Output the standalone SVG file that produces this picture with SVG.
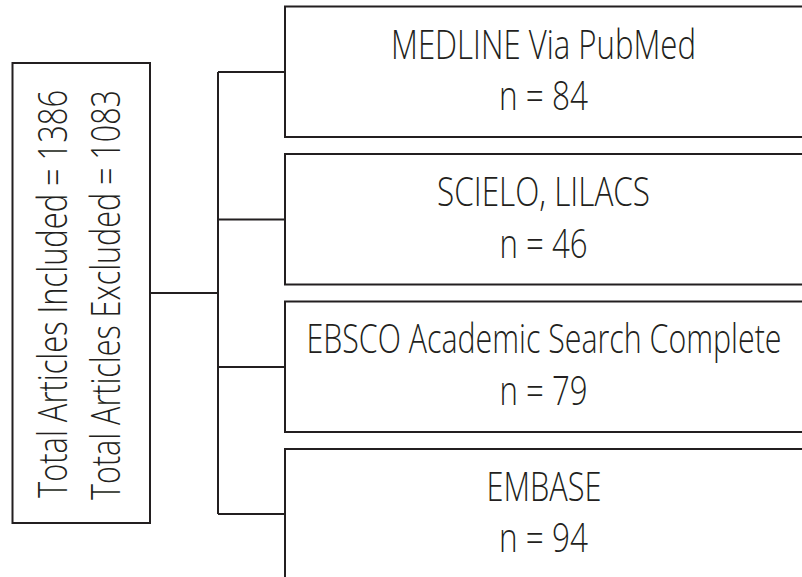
<svg xmlns="http://www.w3.org/2000/svg" width="802" height="577" viewBox="0 0 802 577">
<style>
.box{fill:#fff;stroke:#231f20;stroke-width:2}
.conn{fill:none;stroke:#231f20;stroke-width:2}
.t{font-family:"Open Sans","Liberation Sans",sans-serif;font-weight:300;font-size:40px;fill:#231f20;text-anchor:middle}
</style>
<rect width="802" height="577" fill="#fff"/>
<g id="connectors">
<path class="conn" d="M150,293 H218 M218,72 V514 M218,72 H285 M218,219.5 H285 M218,367 H285 M218,514 H285"/>
</g>
<g id="total">
<rect class="box" x="12.5" y="63" width="137.5" height="460"/>
<text class="t" transform="translate(67,294) rotate(-90)" textLength="408" lengthAdjust="spacingAndGlyphs">Total Articles Included = 1386</text>
<text class="t" transform="translate(120,295) rotate(-90)" textLength="410" lengthAdjust="spacingAndGlyphs">Total Articles Excluded = 1083</text>
</g>
<g id="medline">
<rect class="box" x="285" y="6.5" width="530" height="130.5"/>
<text class="t" x="543.5" y="58.5" textLength="305" lengthAdjust="spacingAndGlyphs">MEDLINE Via PubMed</text>
<text class="t" x="543.5" y="110" textLength="89" lengthAdjust="spacingAndGlyphs">n = 84</text>
</g>
<g id="scielo">
<rect class="box" x="285" y="154" width="530" height="130.5"/>
<text class="t" x="543.5" y="206" textLength="213" lengthAdjust="spacingAndGlyphs">SCIELO, LILACS</text>
<text class="t" x="543.5" y="257.5" textLength="88" lengthAdjust="spacingAndGlyphs">n = 46</text>
</g>
<g id="ebsco">
<rect class="box" x="285" y="301.5" width="530" height="130.5"/>
<text class="t" x="544" y="353" textLength="475" lengthAdjust="spacingAndGlyphs">EBSCO Academic Search Complete</text>
<text class="t" x="543.5" y="405" textLength="88" lengthAdjust="spacingAndGlyphs">n = 79</text>
</g>
<g id="embase">
<rect class="box" x="285" y="449" width="530" height="140"/>
<text class="t" x="544" y="500.5" textLength="115" lengthAdjust="spacingAndGlyphs">EMBASE</text>
<text class="t" x="543.5" y="552" textLength="89" lengthAdjust="spacingAndGlyphs">n = 94</text>
</g>
</svg>
